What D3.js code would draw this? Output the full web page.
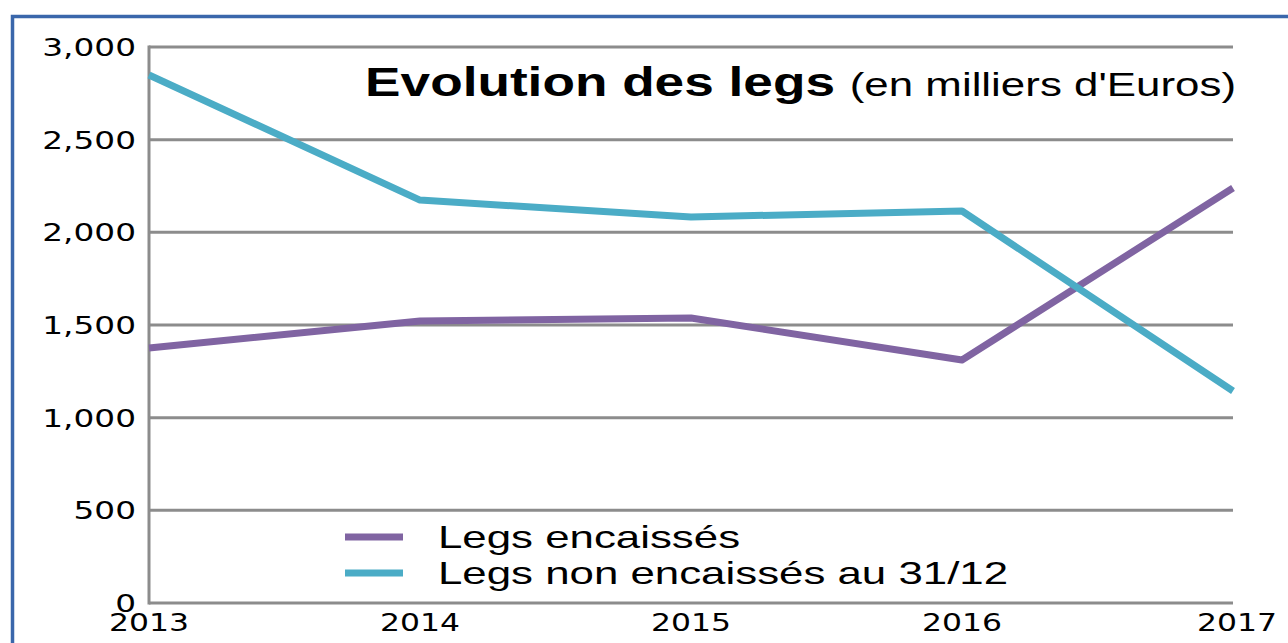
<!DOCTYPE html>
<html>
<head>
<meta charset="utf-8">
<script src="https://cdn.jsdelivr.net/npm/d3@7"></script>
<style>
  body { margin: 0; background: #fff; }
  svg { display: block; }
</style>
</head>
<body>
<svg id="chart"></svg>
<script>
const years = [2013, 2014, 2015, 2016, 2017];
const encaisses = [1376, 1522, 1538, 1311, 2239];
const nonEncaisses = [2849, 2174, 2083, 2115, 1144];
const yTicks = [0, 500, 1000, 1500, 2000, 2500, 3000];

const width = 1288;
const height = 643;
const margin = { top: 47, right: 55, bottom: 40, left: 149 };

// the original text is stretched sideways
const stretch = 1.31;

const svg = d3.select("#chart")
  .attr("width", width)
  .attr("height", height);

// outer blue frame, runs off the right and bottom edges
svg.append("rect")
  .attr("x", 12.5)
  .attr("y", 16.5)
  .attr("width", width)
  .attr("height", height)
  .attr("fill", "none")
  .attr("stroke", "#3a67ab")
  .attr("stroke-width", 3.5);

const x = d3.scaleLinear()
  .domain([2013, 2017])
  .range([margin.left, width - margin.right]);

const y = d3.scaleLinear()
  .domain([0, 3000])
  .range([height - margin.bottom, margin.top]);

// gridlines
svg.append("g")
  .selectAll("line")
  .data(yTicks)
  .join("line")
  .attr("x1", margin.left)
  .attr("x2", width - margin.right)
  .attr("y1", d => y(d))
  .attr("y2", d => y(d))
  .attr("stroke", "#8c8c8c")
  .attr("stroke-width", 3);

// left axis line
svg.append("line")
  .attr("x1", margin.left)
  .attr("x2", margin.left)
  .attr("y1", y(3000) - 1.5)
  .attr("y2", y(0) + 1.5)
  .attr("stroke", "#8c8c8c")
  .attr("stroke-width", 3);

// y tick labels
svg.append("g")
  .selectAll("g")
  .data(yTicks)
  .join("g")
  .attr("transform", d => `translate(136, ${y(d)}) scale(${stretch}, 1)`)
  .append("text")
  .attr("dy", "0.36em")
  .attr("text-anchor", "end")
  .attr("font-family", "DejaVu Sans, Verdana, sans-serif")
  .attr("font-size", 25)
  .attr("fill", "#000")
  .text(d => d3.format(",")(d));

// x tick labels
svg.append("g")
  .selectAll("g")
  .data(years)
  .join("g")
  .attr("transform", d => `translate(${x(d) + (d === 2017 ? 4 : 0)}, 631) scale(${stretch}, 1)`)
  .append("text")
  .attr("text-anchor", "middle")
  .attr("font-family", "DejaVu Sans, Verdana, sans-serif")
  .attr("font-size", 24)
  .attr("fill", "#000")
  .text(d => d);

const series = [
  { name: "Legs encaissés", values: encaisses, color: "#8064a2" },
  { name: "Legs non encaissés au 31/12", values: nonEncaisses, color: "#4bacc6" }
];

const line = d3.line()
  .x((d, i) => x(years[i]))
  .y(d => y(d));

svg.append("g")
  .selectAll("path")
  .data(series)
  .join("path")
  .attr("d", d => line(d.values))
  .attr("fill", "none")
  .attr("stroke", d => d.color)
  .attr("stroke-width", 7)
  .attr("stroke-linejoin", "round");

// title
const title = svg.append("g")
  .attr("transform", `translate(1236, 96) scale(1.33, 1)`)
  .append("text")
  .attr("text-anchor", "end")
  .attr("font-family", "Liberation Sans, Arial, sans-serif")
  .attr("fill", "#000");
title.append("tspan")
  .attr("font-weight", "bold")
  .attr("font-size", 40)
  .text("Evolution des legs ");
title.append("tspan")
  .attr("font-size", 33)
  .text("(en milliers d'Euros)");

// legend
const legend = svg.append("g")
  .selectAll("g")
  .data(series)
  .join("g")
  .attr("transform", (d, i) => `translate(345, ${537 + i * 36})`);

legend.append("line")
  .attr("x1", 0)
  .attr("x2", 58)
  .attr("stroke", d => d.color)
  .attr("stroke-width", 7);

legend.append("g")
  .attr("transform", `translate(93, 11) scale(1.37, 1)`)
  .append("text")
  .attr("font-family", "Liberation Sans, Arial, sans-serif")
  .attr("font-size", 32)
  .attr("fill", "#000")
  .text(d => d.name);
</script>
</body>
</html>
